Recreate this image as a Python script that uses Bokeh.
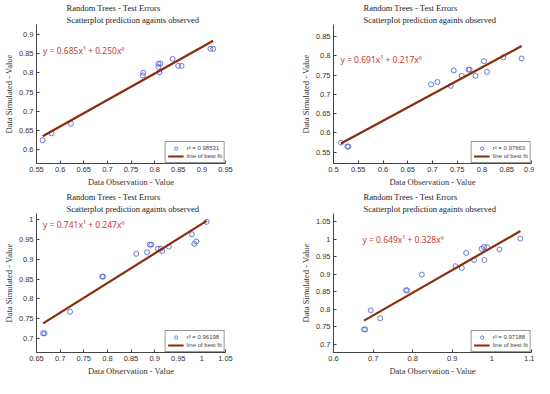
from bokeh.plotting import figure
from bokeh.layouts import gridplot
from bokeh.models import Range1d, FixedTicker, Title, Label
from bokeh.embed import file_html
from bokeh.resources import INLINE

# ---------------- data ----------------
obs1 = [0.563, 0.582, 0.623, 0.775, 0.776, 0.808, 0.808, 0.812, 0.810, 0.838, 0.850, 0.857, 0.918, 0.924]
sim1 = [0.625, 0.643, 0.668, 0.793, 0.800, 0.815, 0.823, 0.824, 0.801, 0.836, 0.818, 0.818, 0.862, 0.862]
fit1 = [0.685, 0.250]
r2_1 = "0.98531"

obs2 = [0.515, 0.528, 0.530, 0.697, 0.710, 0.737, 0.743, 0.759, 0.773, 0.775, 0.787, 0.804, 0.810, 0.843, 0.880]
sim2 = [0.575, 0.565, 0.565, 0.726, 0.732, 0.722, 0.762, 0.748, 0.764, 0.764, 0.748, 0.786, 0.758, 0.796, 0.793]
fit2 = [0.691, 0.217]
r2_2 = "0.97663"

obs3 = [0.664, 0.667, 0.721, 0.789, 0.791, 0.861, 0.884, 0.890, 0.893, 0.907, 0.913, 0.916, 0.930, 0.979, 0.984, 0.988, 1.010]
sim3 = [0.714, 0.714, 0.768, 0.856, 0.856, 0.913, 0.917, 0.936, 0.936, 0.926, 0.926, 0.920, 0.931, 0.962, 0.938, 0.944, 0.993]
fit3 = [0.741, 0.247]
r2_3 = "0.96198"

obs4 = [0.677, 0.680, 0.694, 0.718, 0.783, 0.786, 0.823, 0.908, 0.924, 0.935, 0.955, 0.974, 0.980, 0.981, 0.988, 1.019, 1.072]
sim4 = [0.742, 0.742, 0.797, 0.774, 0.854, 0.854, 0.899, 0.923, 0.918, 0.961, 0.941, 0.973, 0.978, 0.941, 0.977, 0.971, 1.002]
fit4 = [0.649, 0.328]
r2_4 = "0.97188"

xticks1 = [0.55, 0.6, 0.65, 0.7, 0.75, 0.8, 0.85, 0.9, 0.95]
xlabels1 = ["0.55", "0.6", "0.65", "0.7", "0.75", "0.8", "0.85", "0.9", "0.95"]
yticks1 = [0.6, 0.65, 0.7, 0.75, 0.8, 0.85, 0.9]
ylabels1 = ["0.6", "0.65", "0.7", "0.75", "0.8", "0.85", "0.9"]

xticks2 = [0.5, 0.55, 0.6, 0.65, 0.7, 0.75, 0.8, 0.85, 0.9]
xlabels2 = ["0.5", "0.55", "0.6", "0.65", "0.7", "0.75", "0.8", "0.85", "0.9"]
yticks2 = [0.55, 0.6, 0.65, 0.7, 0.75, 0.8, 0.85]
ylabels2 = ["0.55", "0.6", "0.65", "0.7", "0.75", "0.8", "0.85"]

xticks3 = [0.65, 0.7, 0.75, 0.8, 0.85, 0.9, 0.95, 1.0, 1.05]
xlabels3 = ["0.65", "0.7", "0.75", "0.8", "0.85", "0.9", "0.95", "1", "1.05"]
yticks3 = [0.7, 0.75, 0.8, 0.85, 0.9, 0.95, 1.0]
ylabels3 = ["0.7", "0.75", "0.8", "0.85", "0.9", "0.95", "1"]

xticks4 = [0.6, 0.7, 0.8, 0.9, 1.0, 1.1]
xlabels4 = ["0.6", "0.7", "0.8", "0.9", "1", "1.1"]
yticks4 = [0.7, 0.75, 0.8, 0.85, 0.9, 0.95, 1.0, 1.05]
ylabels4 = ["0.7", "0.75", "0.8", "0.85", "0.9", "0.95", "1", "1.05"]

title_main = "Random Trees - Test Errors"
title_sub = "Scatterplot prediction againts observed"
xlabel = "Data Observation - Value"
ylabel = "Data Simulated - Value"

SERIF = "Liberation Serif"
SANS = "Liberation Sans"
MARK = "#5b6ad0"
LINEC = "#8a2c0c"
EQC = "#cc3a30"


def panel(obs, sim, fit, r2, xr, yr, xt, xl, yt, yl, eqpos, left_col):
    W, H = 267, 189
    if left_col:
        bl, br = 26, 42
    else:
        bl, br = 66, 3
    p = figure(width=W, height=H, x_range=Range1d(*xr), y_range=Range1d(*yr),
               output_backend="svg", toolbar_location=None,
               min_border_left=bl, min_border_right=br,
               min_border_top=20, min_border_bottom=22)
    p.grid.visible = False
    p.outline_line_color = None
    p.background_fill_color = "white"
    p.border_fill_color = "white"

    for ax, ticks, labels, lab in ((p.xaxis[0], xt, xl, xlabel), (p.yaxis[0], yt, yl, ylabel)):
        ax.ticker = FixedTicker(ticks=ticks)
        ax.major_label_overrides = {t: s for t, s in zip(ticks, labels)}
        ax.minor_tick_line_color = None
        ax.major_tick_in = 3
        ax.major_tick_out = 0
        ax.axis_line_color = "#444444"
        ax.major_tick_line_color = "#444444"
        ax.major_label_text_font = SANS
        ax.major_label_text_font_size = "7.5px"
        ax.major_label_text_color = "#333333"
        ax.major_label_standoff = 3
        ax.axis_label = lab
        ax.axis_label_text_font = SERIF
        ax.axis_label_text_font_size = "8.5px"
        ax.axis_label_text_font_style = "normal"
        ax.axis_label_text_color = "#333333"
        ax.axis_label_standoff = 2

    # regression line drawn over the observed span
    xs = [min(obs), max(obs)]
    ys = [fit[0] * x + fit[1] for x in xs]
    p.scatter(obs, sim, size=5, marker="circle", fill_color=None, line_color=MARK,
              line_width=0.9, legend_label="r\u00b2 = " + r2)
    p.line(xs, ys, line_color=LINEC, line_width=2.2, legend_label="line of best fit")

    eq = "y = %.3fx\u00b9 + %.3fx\u2070" % (fit[0], fit[1])
    p.add_layout(Label(x=eqpos[0], y=eqpos[1], text=eq, text_font="Noto Sans",
                       text_font_size="8.5px", text_color=EQC, text_baseline="middle"))

    lg = p.legend[0]
    lg.location = "bottom_right"
    lg.margin = 0
    lg.padding = 2
    lg.spacing = 0
    lg.label_text_font = SANS
    lg.label_text_font_size = "6px"
    lg.label_height = 8
    lg.glyph_height = 8
    lg.glyph_width = 16
    lg.label_standoff = 3
    lg.border_line_color = "#333333"
    lg.border_line_width = 0.8
    lg.background_fill_alpha = 1

    p.add_layout(Title(text=title_sub, align="left", offset=30, standoff=0,
                       text_font=SERIF, text_font_size="8.5px",
                       text_font_style="normal", text_color="#222222"), "above")
    p.add_layout(Title(text=title_main, align="left", offset=30, standoff=0,
                       text_font=SERIF, text_font_size="8.5px",
                       text_font_style="normal", text_color="#222222"), "above")
    return p


p1 = panel(obs1, sim1, fit1, r2_1, (0.55, 0.95), (0.565, 0.925), xticks1, xlabels1,
           yticks1, ylabels1, (0.564, 0.857), True)
p2 = panel(obs2, sim2, fit2, r2_2, (0.5, 0.9), (0.521, 0.881), xticks2, xlabels2,
           yticks2, ylabels2, (0.514, 0.790), False)
p3 = panel(obs3, sim3, fit3, r2_3, (0.65, 1.05), (0.666, 1.014), xticks3, xlabels3,
           yticks3, ylabels3, (0.664, 0.986), True)
p4 = panel(obs4, sim4, fit4, r2_4, (0.6, 1.1), (0.676, 1.074), xticks4, xlabels4,
           yticks4, ylabels4, (0.673, 1.0), False)

grid = gridplot([[p1, p2], [p3, p4]], toolbar_location=None)

open("out.html", "w").write(file_html(grid, INLINE))
